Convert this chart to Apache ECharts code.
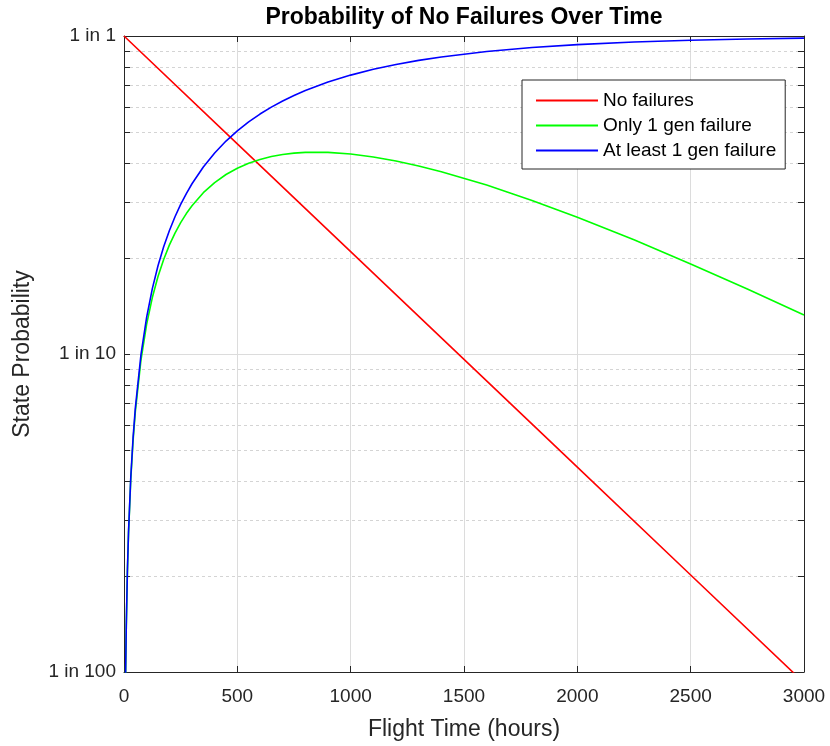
<!DOCTYPE html>
<html>
<head>
<meta charset="utf-8">
<script src="https://cdn.jsdelivr.net/npm/echarts@6/dist/echarts.min.js"></script>
<style>
html,body{margin:0;padding:0;background:#fff;}
#chart{width:830px;height:746px;}
</style>
</head>
<body>
<div id="chart"></div>
<script>
// ---- Data ----
const titleText = 'Probability of No Failures Over Time';
const xAxisName = 'Flight Time (hours)';
const yAxisName = 'State Probability';
const seriesNames = ['No failures', 'Only 1 gen failure', 'At least 1 gen failure'];

const xTicks = [0, 500, 1000, 1500, 2000, 2500, 3000];
const yTickLabels = { '0.01': '1 in 100', '0.1': '1 in 10', '1': '1 in 1' };
const minorTickValues = [0.02, 0.03, 0.04, 0.05, 0.06, 0.07, 0.08, 0.09,
                         0.2, 0.3, 0.4, 0.5, 0.6, 0.7, 0.8, 0.9];

const redTimes = [0, 500, 1000, 1500, 2000, 2500, 3000];
const noFailures = [1, 0.4581, 0.2099, 0.0962, 0.04406, 0.02018, 0.00925];

const timeHours = [5, 7, 10, 15, 20, 30, 40, 50, 75, 100,
                   125, 150, 175, 200, 225, 250, 275, 300,
                   350, 400, 450, 500, 550, 600, 650, 700, 750, 800,
                   900, 1000, 1100, 1200, 1300, 1400,
                   1600, 1800, 2000, 2250, 2500, 2750, 3000];
const onlyOneGenFailure = [0.00696, 0.00972, 0.01383, 0.02062, 0.02733, 0.04050, 0.05335, 0.06589, 0.09590, 0.1241,
                   0.1505, 0.1752, 0.1983, 0.2200, 0.2401, 0.2589, 0.2764, 0.2926,
                   0.3215, 0.3461, 0.3668, 0.3840, 0.3981, 0.4092, 0.4178, 0.4240, 0.4283, 0.4306,
                   0.4307, 0.4256, 0.4166, 0.4045, 0.3901, 0.3743,
                   0.3398, 0.3041, 0.2693, 0.2286, 0.1920, 0.1601, 0.1326];
const atLeastOneGenFailure = [0.00698, 0.00975, 0.01390, 0.02078, 0.02761, 0.04113, 0.05446, 0.06760, 0.09967, 0.1306,
                   0.1605, 0.1894, 0.2173, 0.2442, 0.2702, 0.2953, 0.3196, 0.3430,
                   0.3874, 0.4288, 0.4674, 0.5034, 0.5370, 0.5683, 0.5975, 0.6247, 0.6501, 0.6737,
                   0.7163, 0.7534, 0.7856, 0.8136, 0.8380, 0.8592,
                   0.8935, 0.9196, 0.9392, 0.9571, 0.9698, 0.9787, 0.9850];

// ---- Chart ----
const FONT = '"Liberation Sans", Arial, Helvetica, sans-serif';
const AX = '#262626';
const pair = (xs, ys) => xs.map((x, i) => [x, ys[i]]);

const chart = echarts.init(document.getElementById('chart'), null, { renderer: 'canvas' });

const xMin = xTicks[0], xMax = xTicks[xTicks.length - 1];

const option = {
  backgroundColor: '#ffffff',
  animation: false,
  textStyle: { fontFamily: FONT },
  title: {
    text: titleText,
    left: 464,
    top: 6,
    padding: 0,
    textAlign: 'center',
    textStyle: { fontFamily: FONT, fontSize: 23, fontWeight: 'bold', color: '#000' }
  },
  grid: { left: 124, top: 36, width: 680, height: 639, containLabel: false },
  legend: {
    data: seriesNames,
    orient: 'vertical',
    left: 522,
    top: 80,
    padding: [11, 9, 9, 14],
    itemGap: 6,
    itemWidth: 62,
    itemHeight: 2,
    icon: 'rect',
    backgroundColor: '#ffffff',
    borderColor: AX,
    borderWidth: 1,
    borderRadius: 0,
    textStyle: { fontFamily: FONT, fontSize: 19, color: '#000' }
  },
  xAxis: [
    {
      type: 'value', min: xMin, max: xMax, interval: 500,
      name: xAxisName, nameLocation: 'middle', nameGap: 46,
      nameTextStyle: { fontFamily: FONT, fontSize: 23, color: AX },
      axisLine: { show: true, onZero: false, lineStyle: { color: AX, width: 1 } },
      axisTick: { show: true, inside: true, length: 6, lineStyle: { color: AX } },
      axisLabel: { margin: 15, fontFamily: FONT, fontSize: 19, color: AX,
                   formatter: v => String(v) },
      splitLine: { show: true, lineStyle: { color: '#dcdcdc', width: 1 } }
    },
    {
      type: 'value', min: xMin, max: xMax, interval: 500, position: 'top',
      axisLine: { show: true, onZero: false, lineStyle: { color: AX, width: 1 } },
      axisTick: { show: true, inside: true, length: 6, lineStyle: { color: AX } },
      axisLabel: { show: false },
      splitLine: { show: false }
    }
  ],
  yAxis: [
    {
      type: 'log', logBase: 10, min: 0.01, max: 1,
      name: yAxisName, nameLocation: 'middle', nameGap: 90,
      nameTextStyle: { fontFamily: FONT, fontSize: 23, color: AX },
      axisLine: { show: true, onZero: false, lineStyle: { color: AX, width: 1 } },
      axisTick: { show: true, inside: true, length: 6, lineStyle: { color: AX } },
      axisLabel: {
        margin: 8, fontFamily: FONT, fontSize: 19, color: AX,
        formatter: v => yTickLabels[String(+v.toPrecision(6))] || ''
      },
      splitLine: { show: true, lineStyle: { color: '#dcdcdc', width: 1 } },
      minorTick: { show: false }, minorSplitLine: { show: false }
    },
    {
      type: 'log', logBase: 10, min: 0.01, max: 1, position: 'right',
      axisLine: { show: true, onZero: false, lineStyle: { color: AX, width: 1 } },
      axisTick: { show: true, inside: true, length: 6, lineStyle: { color: AX } },
      axisLabel: { show: false },
      splitLine: { show: false }
    }
  ],
  series: [
    {
      name: 'minor-grid',
      type: 'custom',
      silent: true,
      z: 1,
      xAxisIndex: 0, yAxisIndex: 0,
      data: minorTickValues.map(v => [xMin, v]),
      renderItem: function (params, api) {
        const v = api.value(1);
        const p0 = api.coord([xMin, v]);
        const p1 = api.coord([xMax, v]);
        const y = Math.round(p0[1]) + 0.5;
        return {
          type: 'group',
          children: [
            { type: 'line', shape: { x1: p0[0], y1: y, x2: p1[0], y2: y },
              style: { stroke: '#d4d4d4', lineWidth: 1, lineDash: [3, 3] } },
            { type: 'line', shape: { x1: p0[0], y1: y, x2: p0[0] + 6, y2: y },
              style: { stroke: AX, lineWidth: 1 } },
            { type: 'line', shape: { x1: p1[0] - 6, y1: y, x2: p1[0], y2: y },
              style: { stroke: AX, lineWidth: 1 } }
          ]
        };
      }
    },
    {
      name: seriesNames[0], type: 'line', symbol: 'none', clip: true, z: 3,
      data: pair(redTimes, noFailures),
      color: '#ff0000', lineStyle: { color: '#ff0000', width: 1.6 }
    },
    {
      name: seriesNames[1], type: 'line', symbol: 'none', clip: true, z: 3,
      data: pair(timeHours, onlyOneGenFailure),
      color: '#00ff00', lineStyle: { color: '#00ff00', width: 1.6 }
    },
    {
      name: seriesNames[2], type: 'line', symbol: 'none', clip: true, z: 4,
      data: pair(timeHours, atLeastOneGenFailure),
      color: '#0000ff', lineStyle: { color: '#0000ff', width: 1.6 }
    }
  ]
};
chart.setOption(option);
</script>
</body>
</html>
